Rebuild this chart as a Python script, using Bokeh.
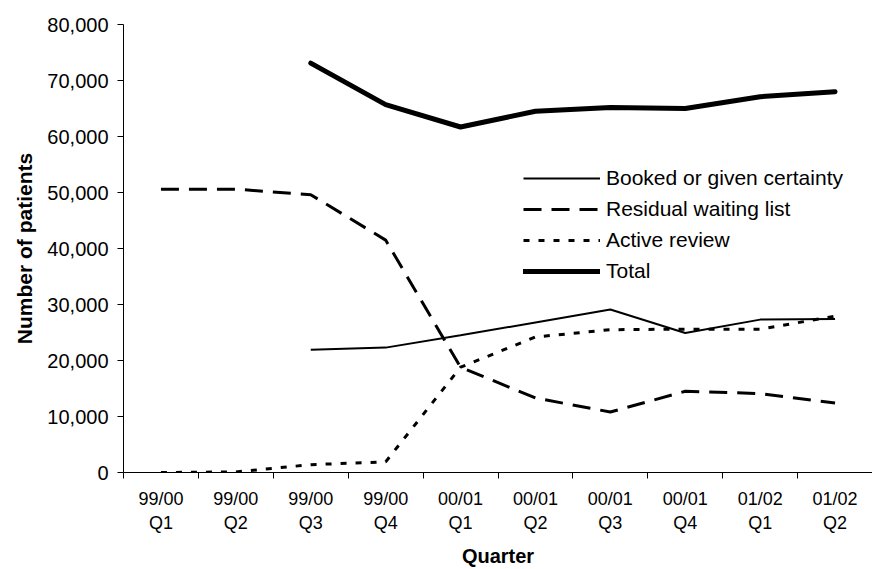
import math
from bokeh.plotting import figure
from bokeh.models import FixedTicker, NumeralTickFormatter, Legend, LegendItem, Range1d
from bokeh.embed import file_html
from bokeh.resources import INLINE

# ---- data ----
quarters = ["99/00\nQ1", "99/00\nQ2", "99/00\nQ3", "99/00\nQ4",
            "00/01\nQ1", "00/01\nQ2", "00/01\nQ3", "00/01\nQ4",
            "01/02\nQ1", "01/02\nQ2"]
booked = [None, None, 21900, 22300, 24500, 26800, 29100, 24900, 27300, 27400]
residual = [50600, 50600, 49600, 41500, 18800, 13300, 10800, 14500, 14100, 12400]
active = [0, 100, 1400, 1900, 18800, 24200, 25500, 25600, 25600, 27900]
total = [None, None, 73100, 65700, 61700, 64500, 65200, 65000, 67100, 68000]
y_ticks = [0, 10000, 20000, 30000, 40000, 50000, 60000, 70000, 80000]
series_names = ["Booked or given certainty", "Residual waiting list", "Active review", "Total"]


def clean(v):
    return [float("nan") if a is None else a for a in v]


FONT = "Liberation Sans"
n = len(quarters)
xc = [i + 0.5 for i in range(n)]

p = figure(width=872, height=569, output_backend="svg", toolbar_location=None,
           x_range=Range1d(0, n), y_range=Range1d(0, 80000),
           min_border_left=123, min_border_right=0, min_border_top=24, min_border_bottom=97)
p.outline_line_color = None
p.grid.visible = False
p.background_fill_color = "white"
p.border_fill_color = "white"

r_booked = p.line(xc, clean(booked), line_color="black", line_width=2)
r_res = p.line(xc, clean(residual), line_color="black", line_width=3, line_dash="18 10")
r_act = p.line(xc, clean(active), line_color="black", line_width=3, line_dash="6 9")
r_tot = p.line(xc, clean(total), line_color="black", line_width=5,
               line_cap="round", line_join="round")

legend = Legend(items=[LegendItem(label=series_names[0], renderers=[r_booked]),
                       LegendItem(label=series_names[1], renderers=[r_res]),
                       LegendItem(label=series_names[2], renderers=[r_act]),
                       LegendItem(label=series_names[3], renderers=[r_tot])],
                location=(400, 189), orientation="vertical",
                glyph_width=77, glyph_height=20, label_height=20, spacing=7,
                label_standoff=6, padding=0, margin=0,
                border_line_color=None, background_fill_alpha=0,
                label_text_font=FONT, label_text_font_size="21px",
                label_text_color="black")
p.add_layout(legend)

xa = p.xaxis[0]
xa.ticker = FixedTicker(ticks=xc, minor_ticks=list(range(n + 1)))
xa.major_label_overrides = {float(v): q for v, q in zip(xc, quarters)}
xa.major_tick_line_color = None
xa.major_tick_out = 6
xa.major_tick_in = 0
xa.minor_tick_out = 6
xa.minor_tick_in = 0
xa.minor_tick_line_color = "black"
xa.axis_line_color = "black"
xa.major_label_text_font = FONT
xa.major_label_text_font_size = "18px"
xa.major_label_text_color = "black"
xa.major_label_standoff = 10
xa.axis_label = "Quarter"
xa.axis_label_text_font = FONT
xa.axis_label_text_font_size = "20px"
xa.axis_label_text_font_style = "bold"
xa.axis_label_text_color = "black"
xa.axis_label_standoff = 9

ya = p.yaxis[0]
ya.ticker = FixedTicker(ticks=y_ticks)
ya.formatter = NumeralTickFormatter(format="0,0")
ya.major_tick_out = 6
ya.major_tick_in = 0
ya.minor_tick_line_color = None
ya.major_tick_line_color = "black"
ya.axis_line_color = "black"
ya.major_label_text_font = FONT
ya.major_label_text_font_size = "20px"
ya.major_label_text_color = "black"
ya.major_label_standoff = 9
ya.axis_label = "Number of patients"
ya.axis_label_text_font = FONT
ya.axis_label_text_font_size = "21px"
ya.axis_label_text_font_style = "bold"
ya.axis_label_text_color = "black"
ya.axis_label_standoff = 8

open("out.html", "w").write(file_html(p, INLINE))
